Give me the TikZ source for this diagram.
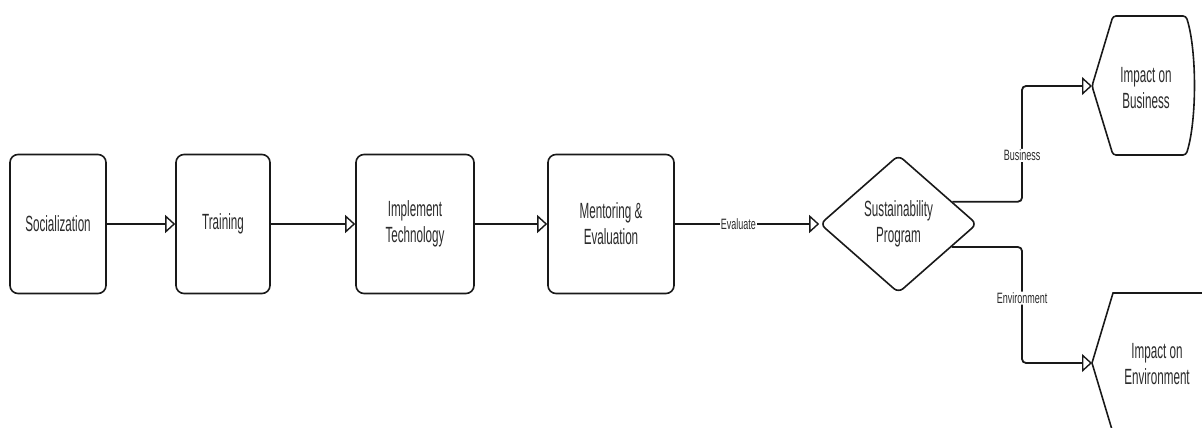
\documentclass[tikz,border=0pt]{standalone}
\usepackage{fontspec}
\setmainfont{Liberation Sans}[FakeStretch=0.53]
\newfontfamily\lblfont{Liberation Sans}[FakeStretch=0.6]
\usetikzlibrary{arrows.meta,shapes.geometric,calc}
\definecolor{txt}{HTML}{2B2B2B}
\tikzset{
  stepbox/.style={draw=black!90,line width=1.6pt,rounded corners=8pt,minimum height=139pt,inner sep=0pt,align=center,text=txt,font=\fontsize{22}{26}\selectfont},
  flow/.style={draw=black!90,line width=1.8pt,-{Triangle[open,length=10pt,width=18pt,line width=1.4pt]}},
  lbl/.style={fill=white,inner sep=1pt,text=txt,font=\lblfont\fontsize{15}{17}\selectfont},
  disp/.style={draw=black!90,line width=1.6pt},
  disptext/.style={align=center,text=txt,font=\fontsize{22}{26}\selectfont}
}
\begin{document}
\begin{tikzpicture}[x=1pt,y=-1pt]
\useasboundingbox (0,0) rectangle (1202,428);
\clip (0,0) rectangle (1202,428);
\node[stepbox,minimum width=96pt] (soc) at (58,224) {Socialization};
\node[stepbox,minimum width=94pt] (tra) at (223,224) {Training};
\node[stepbox,minimum width=118pt] (imp) at (415,224) {Implement\\Technology};
\node[stepbox,minimum width=126pt] (men) at (611,224) {Mentoring \&\\Evaluation};
\node[diamond,draw=black!90,line width=1.6pt,rounded corners=6pt,minimum width=157pt,minimum height=138pt,inner sep=0pt,align=center,text=txt,font=\fontsize{22}{26}\selectfont] (dia) at (898.5,224) {Sustainability\\Program};
% display shapes
\draw[disp,rounded corners=3pt] (1092,86) -- (1113,16) -- (1186,16) .. controls (1197,50) and (1197,121) .. (1186,155) -- (1113,155) -- cycle;
\coordinate (bizL) at (1092,86);
\node[disptext] (biz) at (1146,88) {Impact on\\Business};
\draw[disp] (1092,363) -- (1113,293) -- (1265,293) .. controls (1276,327) and (1276,399) .. (1265,433) -- (1113,433) -- cycle;
\coordinate (envL) at (1092,363);
\node[disptext] (env) at (1157,364) {Impact on\\Environment};
% connectors
\draw[flow] (soc.east) -- (tra.west);
\draw[flow] (tra.east) -- (imp.west);
\draw[flow] (imp.east) -- (men.west);
\draw[flow] (men.east) -- node[lbl,pos=0.44]{Evaluate} (dia.west);
\coordinate (ex) at (1022,0);
\coordinate (s1) at ($(dia.north)!0.68!(dia.east)$);
\coordinate (s2) at ($(dia.south)!0.67!(dia.east)$);
\draw[flow,rounded corners=4pt] (s1) -- (s1 -| ex) |- node[lbl,pos=0.2]{Business} (bizL);
\draw[flow,rounded corners=4pt] (s2) -- (s2 -| ex) |- node[lbl,pos=0.22]{Environment} (envL);
\end{tikzpicture}
\end{document}
